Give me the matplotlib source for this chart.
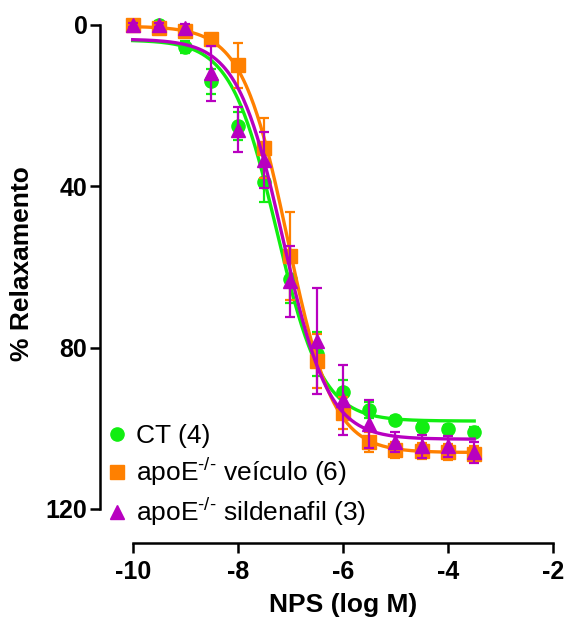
import matplotlib
matplotlib.use('Agg')
import matplotlib.pyplot as plt
import numpy as np
from matplotlib.lines import Line2D

plt.rcParams['font.family'] = ['Liberation Sans', 'DejaVu Sans']
plt.rcParams['mathtext.fontset'] = 'custom'
plt.rcParams['mathtext.rm'] = 'Liberation Sans'
plt.rcParams['mathtext.it'] = 'Liberation Sans'

# NPS concentrations (log M)
log_nps = [-10, -9.5, -9, -8.5, -8, -7.5, -7, -6.5, -6, -5.5, -5, -4.5, -4, -3.5]

# % relaxation, mean and SEM per group
ct_mean = [0, 0, 5.4, 14, 25, 39, 63, 81.5, 91, 95.5, 98, 99.7, 100.2, 100.8]
ct_sem = [0.5, 1, 1.5, 3, 3.5, 5, 6, 5.5, 3, 2, 1, 1, 1, 1]
veh_mean = [0, 0.7, 1.4, 3.5, 10, 30.5, 57.3, 83.3, 96.2, 103.3, 105.4, 105.6, 105.8, 106.4]
veh_sem = [0.5, 0.5, 1, 1, 5.6, 7.5, 11, 6.7, 4, 2.5, 2, 2, 2, 2]
sil_mean = [0, 0, 0.8, 12, 26, 33.5, 63.6, 78.3, 93, 99, 103.3, 104.5, 104.5, 106]
sil_sem = [0.5, 0.5, 1, 6.8, 5.6, 7, 8.8, 13.2, 8.7, 6, 2.5, 2.8, 2.5, 2.5]

# sigmoidal fit parameters: bottom, top, logEC50, hill slope
ct_fit = [3.7, 98.2, -7.26, 1.0]
veh_fit = [0.3, 106.0, -7.05, 1.0]
sil_fit = [3.5, 102.7, -7.14, 1.0]

labels = ['CT (4)', r'apoE$^{\text{-/-}}$ veículo (6)', r'apoE$^{\text{-/-}}$ sildenafil (3)']
colors = ['#11EE11', '#FF8000', '#B800C0']
markers = ['o', 's', '^']

fig = plt.figure(figsize=(5.67, 6.19), dpi=100)
ax = fig.add_axes([100 / 567, 76 / 619, 453 / 567, 518 / 619])

xfit = np.linspace(-10, -3.5, 300)
groups = [(ct_mean, ct_sem, ct_fit), (veh_mean, veh_sem, veh_fit), (sil_mean, sil_sem, sil_fit)]
for i, (m, s, p) in enumerate(groups):
    bottom, top, ec50, hill = p
    yfit = bottom + (top - bottom) / (1 + 10 ** ((ec50 - xfit) * hill))
    ax.plot(xfit, yfit, color=colors[i], lw=2.4, zorder=2 + i, clip_on=False)
    ax.errorbar(log_nps, m, yerr=s, fmt=markers[i], color=colors[i], ms=9.5,
                elinewidth=1.6, capsize=3.5, capthick=1.6, zorder=2 + i, clip_on=False)

ax.set_xlim(-10.622, -2)
ax.set_ylim(128.44, 0)
ax.spines['top'].set_visible(False)
ax.spines['right'].set_visible(False)
ax.spines['bottom'].set_bounds(-10, -2)
ax.spines['left'].set_bounds(0, 120)
for sp in ['bottom', 'left']:
    ax.spines[sp].set_linewidth(1.8)

ax.set_xticks([-10, -8, -6, -4, -2])
ax.set_xticklabels(['-10', '-8', '-6', '-4', '-2'])
ax.set_yticks([0, 40, 80, 120])
ax.tick_params(width=1.8, length=7, labelsize=18)
ax.tick_params(axis='x', pad=5)
ax.tick_params(axis='y', pad=2)
for t in ax.get_xticklabels() + ax.get_yticklabels():
    t.set_fontweight('bold')

ax.set_xlabel('NPS (log M)', fontsize=19, fontweight='bold', va='center')
ax.xaxis.set_label_coords(0.536, -0.12)
ax.set_ylabel('% Relaxamento', fontsize=19, fontweight='bold', va='center')
ax.yaxis.set_label_coords(-0.172, 0.539)

handles = [Line2D([], [], marker=markers[i], ls='none', color=colors[i], ms=9.5) for i in range(3)]
ax.legend(handles, labels, loc='lower left', bbox_to_anchor=(-0.007, 0.008), frameon=False,
          fontsize=19, handlelength=0.7, handletextpad=0.4, labelspacing=0.3, borderaxespad=0)

plt.savefig('out.png', dpi=100)
